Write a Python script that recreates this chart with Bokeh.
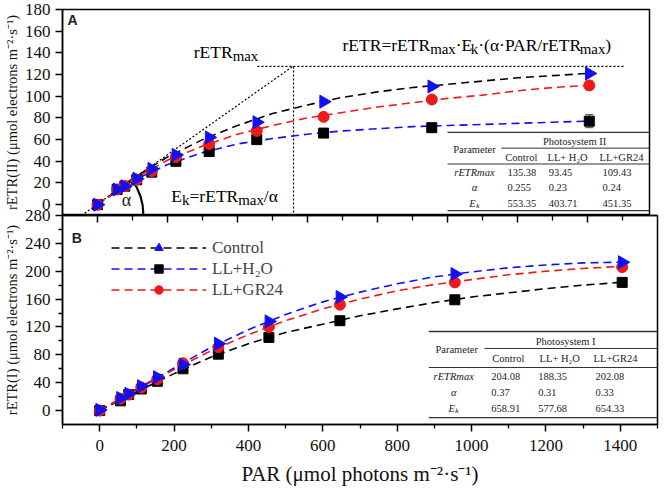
import numpy as np
from bokeh.plotting import figure
from bokeh.models import (Range1d, LinearAxis, FixedTicker, Label, Title,
                          Legend, LegendItem, ColumnDataSource, Whisker, TeeHead,
                          CustomJSTickFormatter)
from bokeh.layouts import column
from bokeh.embed import file_html
from bokeh.resources import INLINE

# ------------------------------------------------------------------ data
par = [0, 56, 78, 112, 155, 224, 319, 455, 646, 955, 1405]

# Panel A : Photosystem II
psii_control = [0, 14, 17, 24, 33, 46, 62, 76, 95, 109, 121]
psii_h2o = [0, 14, 17, 23, 30, 40, 49, 60, 66, 71, 77]
psii_gr24 = [0, 14, 17, 23, 31, 44, 56, 68, 81, 97, 110]
psii_h2o_err = [0, 0, 0, 0, 0, 0, 0, 0, 1, 1, 6]
psii_gr24_err = [0, 0, 0, 0, 0, 0, 0, 0, 1, 1, 4]

# Panel B : Photosystem I
psi_control = [1, 18, 24, 35, 48, 66, 96, 128, 163, 196, 213]
psi_h2o = [0, 14, 23, 31, 42, 60, 81, 105, 129, 159, 184]
psi_gr24 = [0, 17, 23, 33, 45, 68, 91, 120, 152, 184, 206]

# fitted curves
fit_par = [0, 100, 200, 300, 400, 500, 600, 700, 800, 900, 1000, 1100, 1200, 1300, 1400]
psii_fit_control = [0, 24, 44, 60, 73, 84, 92, 99, 104, 108, 111, 114, 117, 119, 121]
psii_fit_h2o = [0, 22, 37, 48, 56, 61, 65, 68, 70, 72, 73, 74, 75, 76, 77]
psii_fit_gr24 = [0, 23, 41, 54, 65, 73, 80, 85, 90, 94, 98, 101, 105, 108, 110]
psi_fit_control = [0, 31, 61, 91, 116, 138, 156, 170, 182, 192, 199, 205, 209, 212, 213]
psi_fit_h2o = [0, 27, 53, 77, 96, 112, 124, 136, 146, 155, 163, 169, 175, 180, 184]
psi_fit_gr24 = [0, 30, 59, 86, 109, 129, 146, 160, 172, 181, 188, 195, 200, 204, 207]

# tick values
x_ticks = [0, 200, 400, 600, 800, 1000, 1200, 1400]
x_minor = [-100, 100, 300, 500, 700, 900, 1100, 1300, 1500]
psii_yticks = [0, 20, 40, 60, 80, 100, 120, 140, 160, 180]
psi_yticks = [0, 40, 80, 120, 160, 200, 240, 280]
psi_yminor = [20, 60, 100, 140, 180, 220, 260]

# table contents
groups = ["Control", "LL+ H\u2082O", "LL+GR24"]
row_names = ["rETRmax", "\u03b1", "E\u2096"]
psii_table = [["135.38", "93.45", "109.43"],
              ["0.255", "0.23", "0.24"],
              ["553.35", "403.71", "451.35"]]
psi_table = [["204.08", "188.35", "202.08"],
             ["0.37", "0.31", "0.33"],
             ["658.91", "577.68", "654.33"]]

# annotation geometry (data coords of panel A)
tangent_x, tangent_y = [-46, 560], [-10, 128]
rmax_x, rmax_y = [457, 1506], [127.5, 127.5]
ek_x, ek_y = [560, 560], [127.5, -10]

SERIF = "Liberation Serif"
BLUE = "#1010f0"
RED = "#f01818"
DASH = "8 5"

# ------------------------------------------------------------------ helpers
WID = {'r': 333, 'E': 611, 'T': 611, 'R': 667, '=': 564, 'm': 778, 'a': 444, 'x': 500,
       'k': 500, '\u00b7': 250, '(': 333, ')': 333, '\u03b1': 520, 'P': 556, 'A': 722,
       '/': 278, ' ': 250}


def tw(s, fs):
    return sum(WID.get(c, 500) for c in s) / 1000.0 * fs


def rich(p, x, y, pieces, fs, sub_scale=0.85, sub_drop=4):
    off = 0.0
    for t, sub in pieces:
        f = fs * sub_scale if sub else fs
        p.add_layout(Label(x=x, y=y, x_offset=off, y_offset=-sub_drop if sub else 0,
                           text=t, text_font=SERIF, text_font_size=f"{f:.1f}px",
                           text_baseline="alphabetic", text_align="left",
                           text_color="black"))
        off += tw(t, f)


def txt(p, x, y, s, size="10.5px", align="center", base="middle", style="normal",
        font=SERIF):
    p.add_layout(Label(x=x, y=y, text=s, text_font=font, text_font_size=size,
                       text_align=align, text_baseline=base, text_font_style=style,
                       text_color="#222222"))


def table(p, g, title, values):
    p.segment(x0=[g["x_left"], g["x_mid"], g["x_left"], g["x_left"]],
              x1=[g["x_right"]] * 4,
              y0=g["y_lines"], y1=g["y_lines"],
              line_color="#333333", line_width=[1.3, 1.0, 1.0, 1.3])
    txt(p, g["param"][0], g["param"][1], "Parameter")
    txt(p, g["title"][0], g["title"][1], title)
    for hx, name in zip(g["head_x"], groups):
        txt(p, hx, g["head_y"], name)
    for ry, rname, vals in zip(g["row_y"], row_names, values):
        txt(p, g["row_label_x"], ry, rname, style="italic")
        for vx, v in zip(g["val_x"], vals):
            txt(p, vx, ry, v, align="left")


def style_axis(ax):
    ax.axis_line_color = "black"
    ax.axis_line_width = 1.5
    ax.major_tick_line_color = "black"
    ax.major_tick_line_width = 1.5
    ax.minor_tick_line_color = "black"
    ax.minor_tick_line_width = 1.3
    ax.major_tick_in = 0
    ax.major_tick_out = 7
    ax.minor_tick_in = 0
    ax.minor_tick_out = 4
    ax.major_label_text_font = SERIF
    ax.major_label_text_font_size = "17px"
    ax.major_label_text_color = "#111111"
    ax.major_label_standoff = 5
    ax.axis_label_text_font = SERIF
    ax.axis_label_text_font_style = "normal"
    ax.axis_label_text_color = "#111111"


def ytitle(p, text):
    p.add_layout(Title(text=text, align="center", text_font=SERIF, text_font_size="14.5px",
                       text_font_style="normal", text_color="#111111", standoff=3), "left")


# ------------------------------------------------------------------ panel A
pt = figure(x_range=Range1d(-100, 1577), y_range=Range1d(-10, 180),
            frame_width=587, frame_height=206, min_border_left=60, min_border_right=11,
            min_border_top=9, min_border_bottom=0, x_axis_location=None,
            output_backend="svg", toolbar_location=None)
pt.grid.visible = False
pt.outline_line_color = "black"
pt.outline_line_width = 1.5
style_axis(pt.yaxis[0])
pt.yaxis.ticker = FixedTicker(ticks=psii_yticks)
ytitle(pt, "rETR(II) (\u03bcmol electrons m\u207b\u00b2\u00b7s\u207b\u00b9)")

# annotation lines
pt.line(tangent_x, tangent_y, line_color="black", line_dash="2 2", line_width=1.2)
pt.line(rmax_x, rmax_y, line_color="black", line_dash="2 2", line_width=1.2)
pt.line(ek_x, ek_y, line_color="black", line_dash="2 2", line_width=1.2)
pt.arc(x=[tangent_x[0]], y=[tangent_y[0]], radius=62, radius_units="screen",
       start_angle=0, end_angle=0.62, line_color="black", line_width=2.2)

pt.line(fit_par, psii_fit_control, line_color="black", line_dash=DASH, line_width=1.6)
pt.line(fit_par, psii_fit_h2o, line_color=BLUE, line_dash=DASH, line_width=1.6)
pt.line(fit_par, psii_fit_gr24, line_color=RED, line_dash=DASH, line_width=1.6)

src_h2o = ColumnDataSource(dict(x=par, lo=[a - e for a, e in zip(psii_h2o, psii_h2o_err)],
                                hi=[a + e for a, e in zip(psii_h2o, psii_h2o_err)]))
src_gr = ColumnDataSource(dict(x=par, lo=[a - e for a, e in zip(psii_gr24, psii_gr24_err)],
                               hi=[a + e for a, e in zip(psii_gr24, psii_gr24_err)]))
pt.add_layout(Whisker(source=src_h2o, base="x", lower="lo", upper="hi", line_color="#444444",
                      upper_head=TeeHead(size=8, line_color="#444444"),
                      lower_head=TeeHead(size=8, line_color="#444444")))
pt.add_layout(Whisker(source=src_gr, base="x", lower="lo", upper="hi", line_color="#aa4444",
                      upper_head=TeeHead(size=8, line_color="#aa4444"),
                      lower_head=TeeHead(size=8, line_color="#aa4444")))

pt.scatter(par, psii_h2o, marker="square", size=10, color="black")
pt.scatter(par, psii_gr24, marker="circle", size=11, color=RED)
pt.scatter(par, psii_control, marker="triangle", angle=-np.pi / 2, size=13, color=BLUE)

txt(pt, -86, 170, "A", size="14px", align="left", style="bold", font="Liberation Sans")
rich(pt, 275, 141, [("rETR", False), ("max", True)], 17.5)
rich(pt, 700, 147, [("rETR=rETR", False), ("max", True), ("\u00b7E", False), ("k", True),
                    ("\u00b7(\u03b1\u00b7PAR/rETR", False), ("max", True), (")", False)], 17.5)
rich(pt, 211, 8, [("E", False), ("k", True), ("=rETR", False), ("max", True), ("/\u03b1", False)], 17.5)
txt(pt, 83, 4, "\u03b1", size="18px")

table(pt, dict(x_left=1000, x_right=1577, x_mid=1154, y_lines=[66.7, 52.1, 37.5, -5.5],
               param=(1077, 51.2), title=(1363, 58.5), head_y=43.9,
               head_x=[1211, 1343, 1497], row_y=[29.3, 15.5, 0.9], row_label_x=1077,
               val_x=[1171, 1289, 1443]), "Photosystem II", psii_table)

# ------------------------------------------------------------------ panel B
pb = figure(x_range=Range1d(-100, 1500), y_range=Range1d(-20, 280),
            frame_width=595, frame_height=209, min_border_left=60, min_border_right=3,
            min_border_top=10, min_border_bottom=0,
            output_backend="svg", toolbar_location=None)
pb.margin = (-10, 0, 0, 0)
pb.border_fill_color = None
pb.grid.visible = False
pb.outline_line_color = "black"
pb.outline_line_width = 1.5
style_axis(pb.yaxis[0])
style_axis(pb.xaxis[0])
pb.yaxis.ticker = FixedTicker(ticks=psi_yticks, minor_ticks=psi_yminor)
ytitle(pb, "rETR(I) (\u03bcmol electrons m\u207b\u00b2\u00b7s\u207b\u00b9)")
pb.xaxis.ticker = FixedTicker(ticks=x_ticks, minor_ticks=x_minor)
pb.xaxis.major_label_standoff = 8
pb.xaxis.axis_label = "PAR (\u03bcmol photons m\u207b\u00b2\u00b7s\u207b\u00b9)"
pb.xaxis.axis_label_text_font_size = "21px"
pb.xaxis.axis_label_standoff = 8

# top axis carrying the ticks of panel A's PAR scale
pb.extra_x_ranges = {"top": Range1d(-100, 1600)}
ax_top = LinearAxis(x_range_name="top",
                    ticker=FixedTicker(ticks=x_ticks, minor_ticks=x_minor[1:]),
                    formatter=CustomJSTickFormatter(code="return ''"))
style_axis(ax_top)
ax_top.major_tick_in = 7
ax_top.major_tick_out = 0
ax_top.minor_tick_in = 5
ax_top.minor_tick_out = 0
ax_top.major_label_text_font_size = "0px"
ax_top.major_label_standoff = 0
pb.add_layout(ax_top, "above")

l_ctrl = pb.line(fit_par, psi_fit_control, line_color=BLUE, line_dash=DASH, line_width=1.6)
l_h2o = pb.line(fit_par, psi_fit_h2o, line_color="black", line_dash=DASH, line_width=1.6)
l_gr = pb.line(fit_par, psi_fit_gr24, line_color=RED, line_dash=DASH, line_width=1.6)
m_h2o = pb.scatter(par, psi_h2o, marker="square", size=10, color="black")
m_gr = pb.scatter(par, psi_gr24, marker="circle", size=11, color=RED)
m_ctrl = pb.scatter(par, psi_control, marker="triangle", angle=-np.pi / 2, size=13, color=BLUE)

txt(pb, -75, 247, "B", size="14px", align="left", style="bold", font="Liberation Sans")

table(pb, dict(x_left=885, x_right=1500, x_mid=1035, y_lines=[113.5, 89.1, 61.8, -10],
               param=(960, 87.6), title=(1253, 99.1), head_y=74.7,
               head_x=[1099, 1237, 1387], row_y=[48.9, 25.9, 2.9], row_label_x=952,
               val_x=[1053, 1179, 1333]), "Photosystem I", psi_table)

# legend: dash colour and marker as in the original key
legend = Legend(items=[LegendItem(label="Control", renderers=[l_h2o, m_ctrl]),
                       LegendItem(label="LL+H\u2082O", renderers=[l_ctrl, m_h2o]),
                       LegendItem(label="LL+GR24", renderers=[l_gr, m_gr])],
                location=(49, 124), glyph_width=95, glyph_height=21, label_standoff=6,
                spacing=0, padding=0, margin=0, border_line_color=None,
                background_fill_alpha=0, label_text_font=SERIF, label_text_font_size="17px",
                label_height=21)
pb.add_layout(legend)

layout = column(pt, pb, spacing=0)
open("out.html", "w").write(file_html(layout, INLINE))
